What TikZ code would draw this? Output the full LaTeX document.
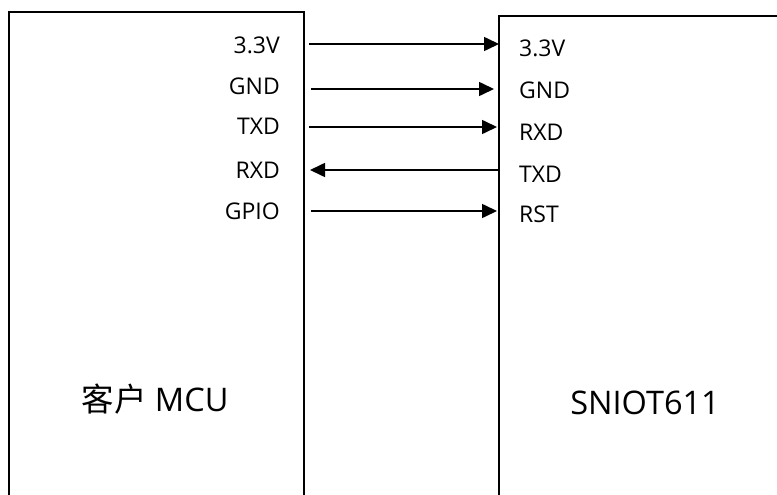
\documentclass[tikz,border=0pt]{standalone}
\usepackage{fontspec}
\setmainfont{Open Sans}
\newfontfamily\cjk{Noto Sans CJK SC}
\usetikzlibrary{arrows.meta}
\begin{document}
\begin{tikzpicture}[x=1pt,y=1pt,
  boxline/.style={line width=1.6pt,line cap=rect},
  sig/.style={line width=1.6pt,-{Triangle[length=15pt 0 0,width=14pt 0 0]}},
  pinlbl/.style={inner sep=0pt,font=\fontsize{23}{27}\selectfont},
  biglbl/.style={inner sep=0pt,font=\fontsize{32.5}{38}\selectfont}]
\useasboundingbox (0,0) rectangle (777,-495);
% boxes (open at the bottom)
\draw[boxline] (9,-500) -- (9,-12) -- (304,-12) -- (304,-500);
\draw[boxline] (499,-500) -- (499,-16) -- (780,-16);
% left pin labels
\node[pinlbl,anchor=base east] (lv) at (280,-54) {3.3V};
\node[pinlbl,anchor=base east] (lg) at (280,-95) {GND};
\node[pinlbl,anchor=base east] (lt) at (280,-135) {TXD};
\node[pinlbl,anchor=base east] (lr) at (280,-178) {RXD};
\node[pinlbl,anchor=base east] (lp) at (280,-219) {GPIO};
% right pin labels
\node[pinlbl,anchor=base west] (rv) at (519,-57) {3.3V};
\node[pinlbl,anchor=base west] (rg) at (519,-99) {GND};
\node[pinlbl,anchor=base west] (rr) at (519,-140) {RXD};
\node[pinlbl,anchor=base west] (rt) at (519,-182) {TXD};
\node[pinlbl,anchor=base west] (rs) at (519,-222) {RST};
% big labels
\node[biglbl,anchor=base] (mcu) at (155,-411) {{\cjk 客户} MCU};
\node[biglbl,anchor=base] (mod) at (645,-414) {SNIOT611};
% pin coordinates
\coordinate (a1) at (309,-44);  \coordinate (b1) at (499,-44);
\coordinate (a2) at (311,-89);  \coordinate (b2) at (494,-89);
\coordinate (a3) at (309,-127); \coordinate (b3) at (497,-127);
\coordinate (a4) at (310,-170); \coordinate (b4) at (499,-170);
\coordinate (a5) at (311,-211); \coordinate (b5) at (497,-211);
% connectors
\draw[sig] (a1) -- (b1);
\draw[sig] (a2) -- (b2);
\draw[sig] (a3) -- (b3);
\draw[sig] (b4) -- (a4);
\draw[sig] (a5) -- (b5);
\end{tikzpicture}
\end{document}
